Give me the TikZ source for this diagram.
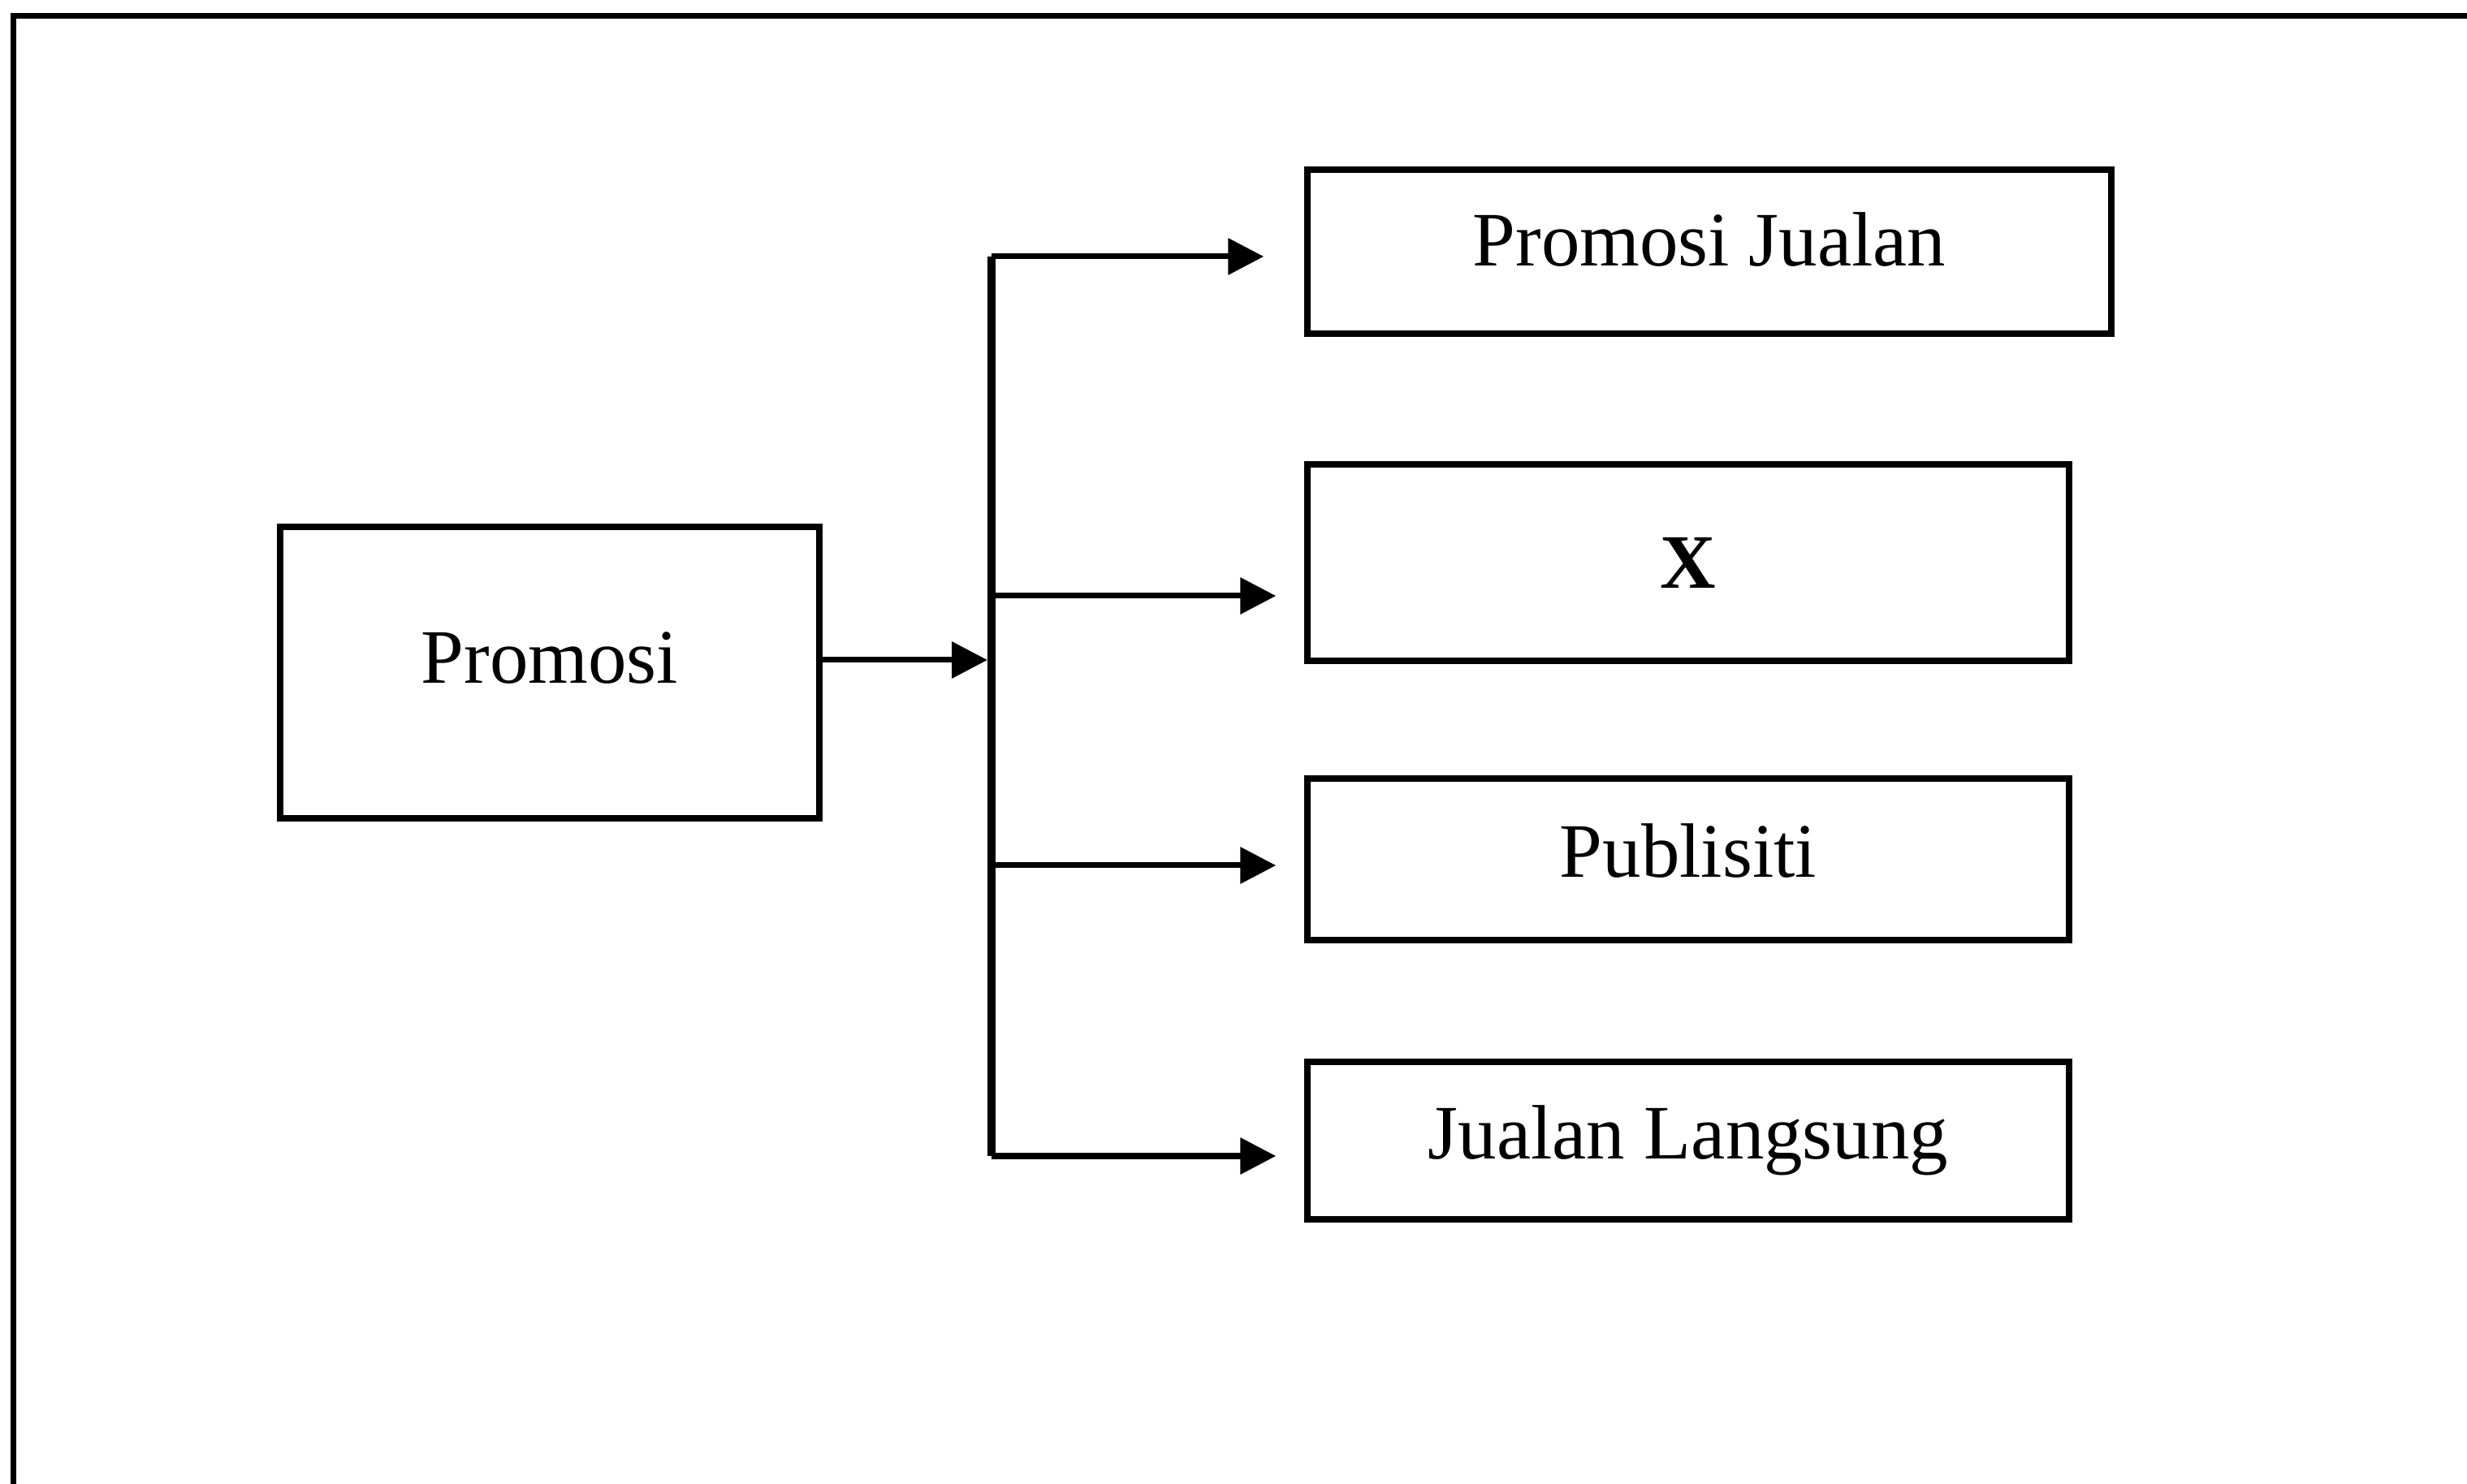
\documentclass[tikz,border=0pt]{standalone}
\usepackage{fontspec}
\setmainfont{Liberation Serif}
\usetikzlibrary{arrows.meta}

\begin{document}
\begin{tikzpicture}[
	cell/.style={
		rectangle,
		draw,
		line width=0.075cm,
		align=center,
		inner sep=0pt,
		font=\fontsize{27pt}{32pt}\selectfont
	},
	ArrowP/.style={% straight arrows with a triangle head
		line width=0.07cm,
		-{Triangle[length=0.44cm,width=0.44cm]},
	},
]
	\useasboundingbox (0,0) rectangle (30.38,-18.28);
	% frame, cut off at the right and at the bottom
	\draw [line width=0.07cm] (0.16,-18.28) -- (0.16,-0.20) -- (30.38,-0.20);

	\node [cell, minimum width=6.64cm, minimum height=3.59cm, text depth=0.36cm] (promosi) at (6.77,-8.285) {Promosi};

	\node [cell, minimum width=9.90cm, minimum height=2.02cm, text depth=0.30cm] (pj) at (21.05,-3.10) {Promosi Jualan};
	\node [cell, minimum width=9.38cm, minimum height=2.42cm] (x) at (20.79,-6.93) {\textbf{X}};
	\node [cell, minimum width=9.38cm, minimum height=1.99cm, text depth=0.22cm] (pub) at (20.79,-10.585) {Publisiti};
	\node [cell, minimum width=9.38cm, minimum height=1.94cm] (jl) at (20.79,-14.05) {Jualan Langsung};

	\coordinate (hub) at (12.21,-8.13);
	\coordinate (t1) at (12.21,-3.16);
	\coordinate (t2) at (12.21,-7.34);
	\coordinate (t3) at (12.21,-10.66);
	\coordinate (t4) at (12.21,-14.24);

	\draw [line width=0.10cm] (t1) -- (t4);
	\draw [ArrowP, shorten >=0.05cm] (promosi.east |- hub) -- (hub);
	\draw [ArrowP, shorten >=0.50cm] (t1) -- (pj.west |- t1);
	\draw [ArrowP, shorten >=0.35cm] (t2) -- (x.west |- t2);
	\draw [ArrowP, shorten >=0.35cm] (t3) -- (pub.west |- t3);
	\draw [ArrowP, shorten >=0.35cm] (t4) -- (jl.west |- t4);
\end{tikzpicture}
\end{document}
